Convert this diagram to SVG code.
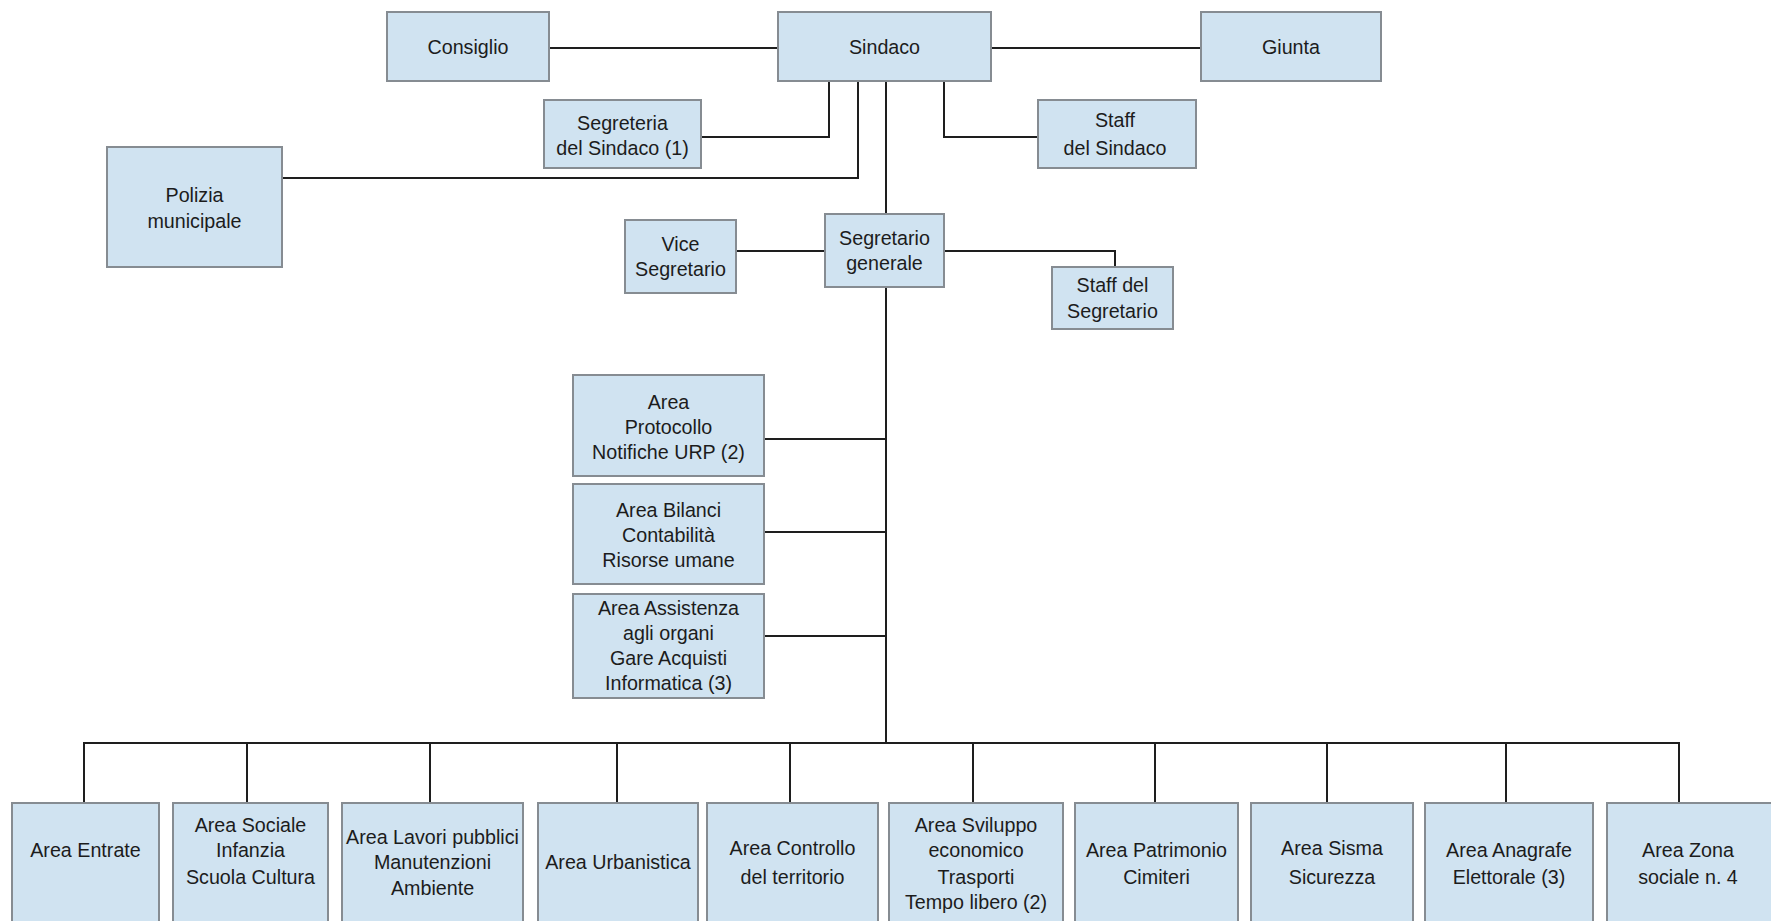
<svg xmlns="http://www.w3.org/2000/svg" width="1771" height="921" viewBox="0 0 1771 921">
<style>
.box{fill:#d0e3f1;stroke:#868c92;stroke-width:2}
.t{font-family:"Liberation Sans",Arial,sans-serif;font-size:19.7px;fill:#1c1c1c;text-anchor:middle}
.c{fill:none;stroke:#1e1e1e;stroke-width:2}
</style>
<rect width="1771" height="921" fill="#ffffff"/>
<g id="connectors">
<path class="c" d="M549 48 H778"/>
<path class="c" d="M991 48 H1201"/>
<path class="c" d="M701 137 H829 V81"/>
<path class="c" d="M282 178 H858 V81"/>
<path class="c" d="M944 81 V137 H1038"/>
<path class="c" d="M886 81 V214"/>
<path class="c" d="M736 251 H825"/>
<path class="c" d="M944 251 H1115 V267"/>
<path class="c" d="M886 287 V743"/>
<path class="c" d="M764 439 H886"/>
<path class="c" d="M764 532 H886"/>
<path class="c" d="M764 636 H886"/>
<path class="c" d="M84 803 V743 H1679 V803"/>
<path class="c" d="M247 743 V803"/>
<path class="c" d="M430 743 V803"/>
<path class="c" d="M617 743 V803"/>
<path class="c" d="M790 743 V803"/>
<path class="c" d="M973 743 V803"/>
<path class="c" d="M1155 743 V803"/>
<path class="c" d="M1327 743 V803"/>
<path class="c" d="M1506 743 V803"/>
</g>
<g id="consiglio"><rect class="box" x="387" y="12" width="162" height="69"/><text class="t" x="468" y="54">Consiglio</text></g>
<g id="sindaco"><rect class="box" x="778" y="12" width="213" height="69"/><text class="t" x="884.5" y="54">Sindaco</text></g>
<g id="giunta"><rect class="box" x="1201" y="12" width="180" height="69"/><text class="t" x="1291" y="54">Giunta</text></g>
<g id="segreteria-sindaco"><rect class="box" x="544" y="100" width="157" height="68"/><text class="t" x="622.5" y="130">Segreteria</text><text class="t" x="622.5" y="155">del Sindaco (1)</text></g>
<g id="staff-sindaco"><rect class="box" x="1038" y="100" width="158" height="68"/><text class="t" x="1115" y="127">Staff</text><text class="t" x="1115" y="155">del Sindaco</text></g>
<g id="polizia"><rect class="box" x="107" y="147" width="175" height="120"/><text class="t" x="194.5" y="202">Polizia</text><text class="t" x="194.5" y="228">municipale</text></g>
<g id="vice-segretario"><rect class="box" x="625" y="220" width="111" height="73"/><text class="t" x="680.5" y="251">Vice</text><text class="t" x="680.5" y="276">Segretario</text></g>
<g id="segretario-generale"><rect class="box" x="825" y="214" width="119" height="73"/><text class="t" x="884.5" y="245">Segretario</text><text class="t" x="884.5" y="270">generale</text></g>
<g id="staff-segretario"><rect class="box" x="1052" y="267" width="121" height="62"/><text class="t" x="1112.5" y="292">Staff del</text><text class="t" x="1112.5" y="318">Segretario</text></g>
<g id="area-protocollo"><rect class="box" x="573" y="375" width="191" height="101"/><text class="t" x="668.5" y="409">Area</text><text class="t" x="668.5" y="434">Protocollo</text><text class="t" x="668.5" y="459">Notifiche URP (2)</text></g>
<g id="area-bilanci"><rect class="box" x="573" y="484" width="191" height="100"/><text class="t" x="668.5" y="517">Area Bilanci</text><text class="t" x="668.5" y="542">Contabilità</text><text class="t" x="668.5" y="567">Risorse umane</text></g>
<g id="area-assistenza"><rect class="box" x="573" y="594" width="191" height="104"/><text class="t" x="668.5" y="615">Area Assistenza</text><text class="t" x="668.5" y="640">agli organi</text><text class="t" x="668.5" y="665">Gare Acquisti</text><text class="t" x="668.5" y="690">Informatica (3)</text></g>
<g id="area-entrate"><rect class="box" x="12" y="803" width="147" height="130"/><text class="t" x="85.5" y="857">Area Entrate</text></g>
<g id="area-sociale"><rect class="box" x="173" y="803" width="155" height="130"/><text class="t" x="250.5" y="832">Area Sociale</text><text class="t" x="250.5" y="857">Infanzia</text><text class="t" x="250.5" y="884">Scuola Cultura</text></g>
<g id="area-lavori"><rect class="box" x="342" y="803" width="181" height="130"/><text class="t" x="432.5" y="844">Area Lavori pubblici</text><text class="t" x="432.5" y="869">Manutenzioni</text><text class="t" x="432.5" y="895">Ambiente</text></g>
<g id="area-urbanistica"><rect class="box" x="538" y="803" width="160" height="130"/><text class="t" x="618" y="869">Area Urbanistica</text></g>
<g id="area-controllo"><rect class="box" x="707" y="803" width="171" height="130"/><text class="t" x="792.5" y="855">Area Controllo</text><text class="t" x="792.5" y="884">del territorio</text></g>
<g id="area-sviluppo"><rect class="box" x="889" y="803" width="174" height="130"/><text class="t" x="976" y="832">Area Sviluppo</text><text class="t" x="976" y="857">economico</text><text class="t" x="976" y="884">Trasporti</text><text class="t" x="976" y="909">Tempo libero (2)</text></g>
<g id="area-patrimonio"><rect class="box" x="1075" y="803" width="163" height="130"/><text class="t" x="1156.5" y="857">Area Patrimonio</text><text class="t" x="1156.5" y="884">Cimiteri</text></g>
<g id="area-sisma"><rect class="box" x="1251" y="803" width="162" height="130"/><text class="t" x="1332" y="855">Area Sisma</text><text class="t" x="1332" y="884">Sicurezza</text></g>
<g id="area-anagrafe"><rect class="box" x="1425" y="803" width="168" height="130"/><text class="t" x="1509" y="857">Area Anagrafe</text><text class="t" x="1509" y="884">Elettorale (3)</text></g>
<g id="area-zona"><rect class="box" x="1607" y="803" width="170" height="130"/><text class="t" x="1688" y="857">Area Zona</text><text class="t" x="1688" y="884">sociale n. 4</text></g>
</svg>
